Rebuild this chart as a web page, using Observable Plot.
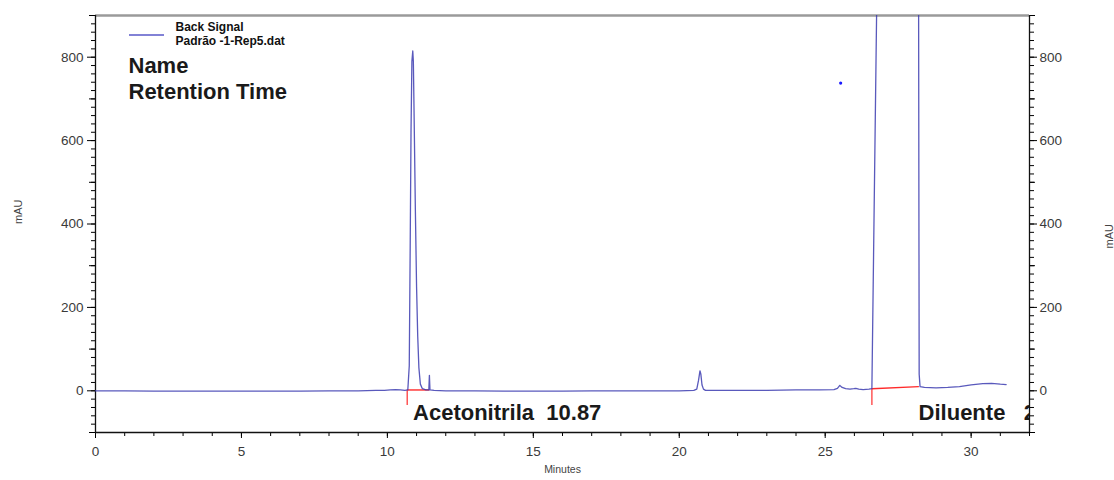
<!DOCTYPE html>
<html>
<head>
<meta charset="utf-8">
<script src="https://cdn.jsdelivr.net/npm/d3@7"></script>
<script src="https://cdn.jsdelivr.net/npm/@observablehq/plot@0.6"></script>
<style>
  html, body { margin: 0; padding: 0; background: #fff; }
  #chart { position: relative; width: 1114px; height: 480px; }
</style>
</head>
<body>
<div id="chart"></div>
<script>
// ---- Chromatogram trace (minutes, mAU) ----
const traceTime = [
  0, 1, 2, 3, 4, 5, 6, 7, 8, 9, 9.6, 9.9, 10.1, 10.28, 10.45, 10.6, 10.7,
  10.75, 10.78, 10.81, 10.84, 10.87, 10.89, 10.92, 10.96, 11.0, 11.04, 11.08, 11.13, 11.2, 11.32, 11.42, 11.44, 11.46, 11.6,
  12, 13, 14, 15, 16, 17, 18, 19, 20, 20.5, 20.6, 20.66, 20.71, 20.74, 20.78, 20.83, 20.9, 21.1,
  21.5, 22, 23, 24, 24.8, 25.3, 25.42, 25.5, 25.58, 25.7, 25.85, 25.98, 26.05, 26.15, 26.3, 26.5, 26.6,
  26.77, 26.9, 28.15, 28.2, 28.22, 28.25, 28.4, 28.8, 29.2, 29.6, 30.0, 30.4, 30.7, 31.0, 31.2
];
const traceSignal = [
  0, 0, -1, -1, -1, -1, -1, -1, 0, 0, 1, 1, 2, 3, 2, 1, 2,
  60, 330, 620, 790, 815, 790, 640, 430, 250, 130, 55, 16, 5, 2, 2, 37, 2, 1,
  0, 0, -1, -1, -1, 0, 0, 0, 0, 1, 4, 25, 48, 40, 14, 4, 1, 1,
  1, 1, 1, 2, 2, 3, 6, 13, 8, 5, 4, 5, 6, 4, 3, 4, 5,
  950, 3000, 3000, 950, 40, 10, 8, 7, 8, 10, 14, 17, 18, 16, 15
];

// ---- Integration baselines (start, end) ----
const baseStartTime = [10.68, 26.6];
const baseStartValue = [2, 5];
const baseEndTime = [11.44, 28.21];
const baseEndValue = [2, 10];
const baseTickBottom = [-35, -35];

// ---- Peak labels ----
const peakNames = ["Acetonitrila\u00a0\u00a010.87", "Diluente\u00a0\u00a0\u00a02"];
const peakLabelTime = [10.88, 28.2];

// ---- Stray point ----
const dotTime = [25.53];
const dotValue = [738];

// ---- Axis ticks ----
const yMajorTicks = [0, 200, 400, 600, 800];
const yMidTicks = [-100, 100, 300, 500, 700, 900];
const yMinorTicks = d3.range(-100, 901, 20);
const xMajorTicks = [0, 5, 10, 15, 20, 25, 30];
const xMinorTicks = d3.range(0, 33, 1);

// ---- Texts ----
const legendTitle = "Back Signal";
const legendFile = "Padrão -1-Rep5.dat";
const headerName = "Name";
const headerRT = "Retention Time";
const yLabel = "mAU";
const xLabel = "Minutes";

const trace = traceTime.map((t, i) => ({t, v: traceSignal[i]}));
const baselines = baseStartTime.map((t, i) => ({
  t1: t, v1: baseStartValue[i], t2: baseEndTime[i], v2: baseEndValue[i], vb: baseTickBottom[i]
}));
const peaks = peakNames.map((n, i) => ({name: n, t: peakLabelTime[i]}));
const dots = dotTime.map((t, i) => ({t, v: dotValue[i]}));

const font = "'Liberation Sans', Arial, sans-serif";
const tickFill = "#3a3a3a";

const plot = Plot.plot({
  width: 1114,
  height: 480,
  marginLeft: 95,
  marginRight: 85,
  marginTop: 15,
  marginBottom: 48,
  style: {fontFamily: font, fontSize: "13.5px", color: "#000", background: "#fff"},
  x: {domain: [0, 32], label: null},
  y: {domain: [-100, 900], label: null},
  marks: [
    // axes: minor / mid / major ticks
    Plot.axisY(yMinorTicks, {anchor: "left", tickSize: 4, tickFormat: () => "", label: null}),
    Plot.axisY(yMidTicks, {anchor: "left", tickSize: 6, tickFormat: () => "", label: null}),
    Plot.axisY(yMajorTicks, {anchor: "left", tickSize: 8, tickPadding: 4, label: null, fill: tickFill, fontSize: 13.5}),
    Plot.axisY(yMinorTicks, {anchor: "right", tickSize: 4, tickFormat: () => "", label: null}),
    Plot.axisY(yMidTicks, {anchor: "right", tickSize: 5, tickFormat: () => "", label: null}),
    Plot.axisY(yMajorTicks, {anchor: "right", tickSize: 7, tickPadding: 3, label: null, fill: tickFill, fontSize: 13.5}),
    Plot.axisX(xMinorTicks, {anchor: "bottom", tickSize: 4, tickFormat: () => "", label: null}),
    Plot.axisX(xMajorTicks, {anchor: "bottom", tickSize: 6, tickPadding: 8, label: null, fill: tickFill, fontSize: 13.5}),
    // frame lines
    Plot.ruleY([900], {stroke: "#9a9a9a", strokeWidth: 2.5}),
    Plot.ruleX([0], {stroke: "#111", strokeWidth: 1.3}),
    Plot.ruleX([32], {stroke: "#111", strokeWidth: 1.3}),
    Plot.ruleY([-100], {stroke: "#111", strokeWidth: 1.3}),
    // integration baselines
    Plot.link(baselines, {x1: "t1", y1: "v1", x2: "t2", y2: "v2", stroke: "#ff2a2a", strokeWidth: 1.4}),
    Plot.ruleX(baselines, {x: "t1", y1: "v1", y2: "vb", stroke: "#ff4a4a", strokeWidth: 1.4}),
    // trace
    Plot.line(trace, {x: "t", y: "v", stroke: "#3c3cb0", strokeWidth: 1.3, strokeOpacity: 0.85, clip: true}),
    Plot.dot(dots, {x: "t", y: "v", r: 1.6, fill: "#1a1aff", stroke: "none"}),
    // peak labels
    Plot.text(peaks, {x: "t", text: "name", frameAnchor: "bottom", dy: -20, lineAnchor: "middle",
      textAnchor: "start", fontSize: 22, fontWeight: "bold", fill: "#1a1a1a", clip: true}),
    // legend & header
    Plot.text([legendTitle], {frameAnchor: "top-left", dx: 80, dy: 12, lineAnchor: "middle", textAnchor: "start",
      fontSize: 12, fill: "#111", fontWeight: "bold"}),
    Plot.text([legendFile], {frameAnchor: "top-left", dx: 80, dy: 26, lineAnchor: "middle", textAnchor: "start",
      fontSize: 12, fill: "#111", fontWeight: "bold"}),
    Plot.text([headerName], {frameAnchor: "top-left", dx: 33, dy: 50, lineAnchor: "middle", textAnchor: "start",
      fontSize: 22, fontWeight: "bold", fill: "#1a1a1a"}),
    Plot.text([headerRT], {frameAnchor: "top-left", dx: 33, dy: 76, lineAnchor: "middle", textAnchor: "start",
      fontSize: 22, fontWeight: "bold", fill: "#1a1a1a"}),
    // axis titles
    Plot.text([yLabel], {frameAnchor: "left", dx: -77, rotate: -90, fontSize: 11, fill: "#444"}),
    Plot.text([yLabel], {frameAnchor: "right", dx: 80, rotate: -90, fontSize: 11, fill: "#444"}),
    Plot.text([xLabel], {frameAnchor: "bottom", dy: 40, fontSize: 10.5, fill: "#444"})
  ]
});

document.getElementById("chart").appendChild(plot);

// legend swatch
d3.select(plot).append("line")
  .attr("x1", 129).attr("x2", 164).attr("y1", 35).attr("y2", 35)
  .attr("stroke", "#8282d6").attr("stroke-width", 2);
</script>
</body>
</html>
